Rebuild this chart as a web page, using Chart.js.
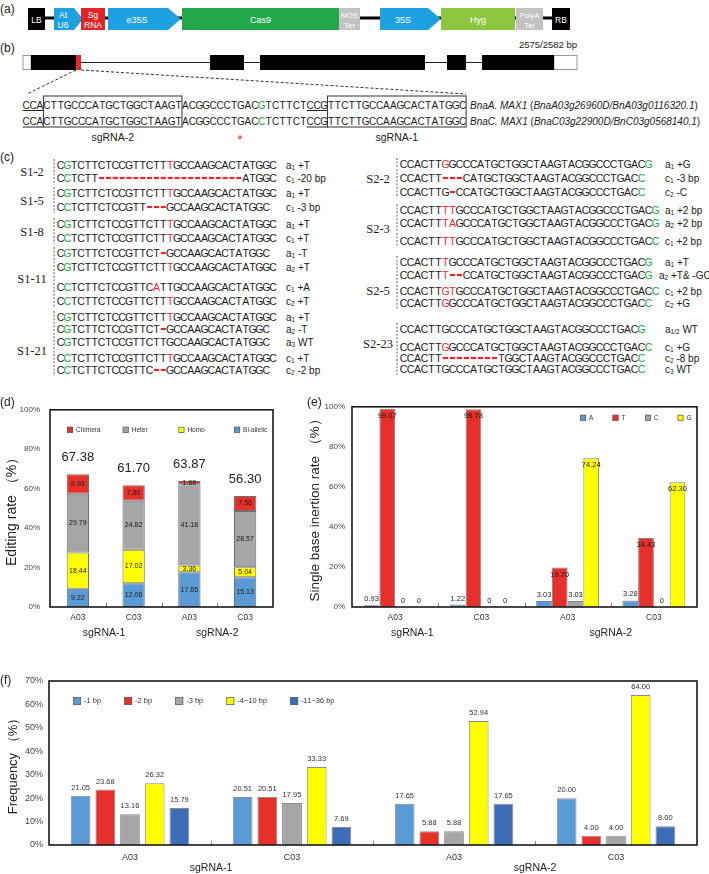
<!DOCTYPE html>
<html>
<head>
<meta charset="utf-8">
<script src="https://cdn.jsdelivr.net/npm/chart.js@4.4.0/dist/chart.umd.min.js"></script>
<style>
  html, body { margin: 0; padding: 0; background: #fff; }
  #page { position: relative; width: 709px; height: 874px; overflow: hidden; font-family: "Liberation Sans", Arial, sans-serif; }
  #diagram { position: absolute; left: 0; top: 0; }
  canvas { position: absolute; }
  .plabel { position: absolute; font-size: 12px; color: #222; }
</style>
</head>
<body>
<div id="page">
  <svg id="diagram" width="709" height="385" xmlns="http://www.w3.org/2000/svg"></svg>
  <canvas id="chartD" width="285" height="250" style="left:0;top:395px"></canvas>
  <canvas id="chartE" width="409" height="250" style="left:300px;top:395px"></canvas>
  <canvas id="chartF" width="709" height="229" style="left:0;top:645px"></canvas>
  <div class="plabel" style="left:0;top:395px">(d)</div>
  <div class="plabel" style="left:307px;top:395px">(e)</div>
  <div class="plabel" style="left:0;top:673px">(f)</div>
</div>
<script>
// ---- chart data ----
// (d) editing rate, stacked
var dCategories = ['A03', 'C03', 'A03', 'C03'];
var dBiallelic = [9.22, 12.06, 17.65, 15.13];
var dHomo = [18.44, 17.02, 3.36, 5.04];
var dHeter = [29.79, 24.82, 41.18, 28.57];
var dChimera = [9.93, 7.80, 1.68, 7.56];
var dTotals = [67.38, 61.70, 63.87, 56.30];

// (e) single base insertion rate
var eCategories = ['A03', 'C03', 'A03', 'C03'];
var eA = [0.93, 1.22, 3.03, 3.28];
var eT = [99.07, 98.78, 19.70, 34.43];
var eC = [0, 0, 3.03, 0];
var eG = [0, 0, 74.24, 62.30];

// (f) deletion size frequency
var fCategories = ['A03', 'C03', 'A03', 'C03'];
var fDel1 = [21.05, 20.51, 17.65, 20.00];
var fDel2 = [23.68, 20.51, 5.88, 4.00];
var fDel3 = [13.16, 17.95, 5.88, 4.00];
var fDel4to10 = [26.32, 33.33, 52.94, 64.00];
var fDel11to36 = [15.79, 7.69, 17.65, 8.00];

var sgRNAs = ['sgRNA-1', 'sgRNA-2'];

// colours
var RED = '#E8302A', GRAY = '#A6A6A6', YELLOW = '#FFFF00', BLUE = '#5B9BD5', DBLUE = '#3E6DB8';
var GREEN_TXT = '#22A33A', RED_TXT = '#E8262B';

// ---- panels (a)-(c): construct, gene and sequences ----
var svg = '';
var rects = '';

function txt(x, y, s, attrs) {
  svg += '<text x="' + x + '" y="' + y + '" ' + (attrs || '') + '>' + s + '</text>';
}

// (a) T-DNA construct
txt(0, 13, '(a)', 'font-size="12" fill="#222"');
svg += '<rect x="45" y="16.5" width="507" height="3" fill="#000"/>';
function box(x, w, fill, lines, fs) {
  svg += '<rect x="' + x + '" y="8" width="' + w + '" height="22" fill="' + fill + '"/>';
  var cx = x + w / 2;
  if (lines.length === 1) txt(cx, 22.5, lines[0], 'font-size="' + fs + '" fill="#fff" text-anchor="middle"');
  else {
    txt(cx, 17.5, lines[0], 'font-size="' + fs + '" fill="#fff" text-anchor="middle"');
    txt(cx, 28, lines[1], 'font-size="' + fs + '" fill="#fff" text-anchor="middle"');
  }
}
function arrow(x, w, tip, fill, lines, fs, tx) {
  svg += '<polygon points="' + x + ',8 ' + (x + w - tip) + ',8 ' + (x + w) + ',19 ' + (x + w - tip) + ',30 ' + x + ',30" fill="' + fill + '"/>';
  if (lines.length === 1) txt(tx, 22.5, lines[0], 'font-size="' + fs + '" fill="#fff" text-anchor="middle"');
  else {
    txt(tx, 17.5, lines[0], 'font-size="' + fs + '" fill="#fff" text-anchor="middle"');
    txt(tx, 28, lines[1], 'font-size="' + fs + '" fill="#fff" text-anchor="middle"');
  }
}
box(28, 17, '#000', ['LB'], 8.5);
arrow(54, 29, 9, '#1DA1E0', ['At', 'U6'], 8.5, 63);
box(81, 24, '#E42328', ['Sg', 'RNA'], 8.5);
arrow(108, 73, 13, '#1DA1E0', ['e35S'], 9, 137);
box(182, 157, '#22A84A', ['Cas9'], 9);
box(339, 21, '#C3C3C3', ['NOS', 'Ter'], 8);
arrow(380, 61, 13, '#1DA1E0', ['35S'], 9, 403);
box(441, 74, '#8CC63F', ['Hyg'], 9);
box(516, 27, '#C3C3C3', ['PolyA', 'Ter'], 7.5);
box(552, 18, '#000', ['RB'], 8.5);

// (b) gene structure
txt(0, 52, '(b)', 'font-size="12" fill="#222"');
txt(577, 48, '2575/2582 bp', 'font-size="9.5" fill="#222" text-anchor="end"');
svg += '<line x1="31" y1="62.5" x2="554" y2="62.5" stroke="#222" stroke-width="1"/>';
svg += '<rect x="23" y="55.5" width="8" height="14" fill="#fff" stroke="#999"/>';
svg += '<rect x="554" y="55.5" width="23" height="14" fill="#fff" stroke="#999"/>';
[[31, 46], [210, 34], [260, 165], [447, 19], [482, 72]].forEach(function (e) {
  svg += '<rect x="' + e[0] + '" y="55" width="' + e[1] + '" height="15" fill="#000"/>';
});
svg += '<rect x="76" y="55" width="5" height="15" fill="#E8262B"/>';
svg += '<line x1="76" y1="70" x2="27" y2="94" stroke="#333" stroke-dasharray="3,2"/>';
svg += '<line x1="81" y1="70" x2="466" y2="94" stroke="#333" stroke-dasharray="3,2"/>';

function seqRow(x0, yc, pitch, fs, str) {
  var chars = [], color = null;
  for (var k = 0; k < str.length; k++) {
    var ch = str[k];
    if (ch === '[') { color = GREEN_TXT; continue; }
    if (ch === '{') { color = RED_TXT; continue; }
    if (ch === ']' || ch === '}') { color = null; continue; }
    chars.push({ ch: ch, color: color });
  }
  var runs = [], run = null;
  chars.forEach(function (c, i) {
    if (c.ch === '-') {
      rects += '<rect x="' + (x0 + i * pitch + 0.9).toFixed(2) + '" y="' + (yc - 1.1) + '" width="' + (pitch - 1.8).toFixed(2) + '" height="2.2" fill="' + RED_TXT + '"/>';
      run = null;
      return;
    }
    if (!run || run.color !== c.color) { run = { color: c.color, xs: [], s: '' }; runs.push(run); }
    run.xs.push((x0 + (i + 0.5) * pitch).toFixed(2));
    run.s += c.ch;
  });
  svg += '<text y="' + (yc + fs * 0.36).toFixed(2) + '" font-size="' + fs + '" text-anchor="middle" fill="#1a1a1a">';
  runs.forEach(function (r) {
    svg += '<tspan x="' + r.xs.join(' ') + '"' + (r.color ? ' fill="' + r.color + '"' : '') + '>' + r.s + '</tspan>';
  });
  svg += '</text>';
}

var bPitch = 6.93, bX0 = 22.6;
seqRow(bX0, 105, bPitch, 10, 'CCACTTGCCCATGCTGGCTAAGTACGGCCCTGAC[G]TCTTCTCCGTTCTTGCCAAGCACTATGGC');
seqRow(bX0, 121, bPitch, 10, 'CCACTTGCCCATGCTGGCTAAGTACGGCCCTGAC[C]TCTTCTCCGTTCTTGCCAAGCACTATGGC');
svg += '<rect x="' + (bX0 + 3 * bPitch) + '" y="96" width="' + (20 * bPitch) + '" height="31" fill="none" stroke="#333"/>';
svg += '<rect x="' + (bX0 + 44 * bPitch) + '" y="96" width="' + (20 * bPitch) + '" height="31" fill="none" stroke="#333"/>';
[110.5, 127].forEach(function (y) {
  svg += '<line x1="' + bX0 + '" y1="' + y + '" x2="' + (bX0 + 3 * bPitch) + '" y2="' + y + '" stroke="#222"/>';
  svg += '<line x1="' + (bX0 + 41 * bPitch) + '" y1="' + y + '" x2="' + (bX0 + 44 * bPitch) + '" y2="' + y + '" stroke="#222"/>';
});
txt(bX0 + 13 * bPitch, 141, 'sgRNA-2', 'font-size="10.5" fill="#222" text-anchor="middle"');
txt(bX0 + 54 * bPitch, 141, 'sgRNA-1', 'font-size="10.5" fill="#222" text-anchor="middle"');
txt(240, 144, '*', 'font-size="13" fill="#E8262B" text-anchor="middle"');
txt(470, 108.6, '<tspan font-style="italic">BnaA. MAX1</tspan> (<tspan font-style="italic">BnaA03g26960D/BnA03g0116320.1</tspan>)', 'font-size="10" fill="#222"');
txt(470, 124.6, '<tspan font-style="italic">BnaC. MAX1</tspan> (<tspan font-style="italic">BnaC03g22900D/BnC03g0568140.1</tspan>)', 'font-size="10" fill="#222"');

// (c) sequencing of edited lines
txt(0, 161, '(c)', 'font-size="12" fill="#222"');

function note(x, yc, s, fs) {
  var m = s.match(/^(\w)_(\S+) (.*)$/);
  svg += '<text x="' + x + '" y="' + (yc + fs * 0.36).toFixed(2) + '" font-size="' + fs + '" fill="#1a1a1a">' + m[1] +
    '<tspan font-size="' + (fs * 0.65) + '" dy="1.5">' + m[2] + '</tspan><tspan dy="-1.5"> ' + m[3] + '</tspan></text>';
}

var leftGroups = [
  { name: 'S1-2', y: 171, rows: [
    [165, 'C[G]TCTTCTCCGTTCTT{T}GCCAAGCACTATGGC', 'a_1 +T'],
    [178, 'C[C]TCTT---------------------ATGGC', 'c_1 -20 bp']] },
  { name: 'S1-5', y: 200, rows: [
    [193, 'C[G]TCTTCTCCGTTCTT{T}GCCAAGCACTATGGC', 'a_1 +T'],
    [207, 'C[C]TCTTCTCCGTT---GCCAAGCACTATGGC', 'c_1 -3 bp']] },
  { name: 'S1-8', y: 231, rows: [
    [224, 'C[G]TCTTCTCCGTTCTT{T}GCCAAGCACTATGGC', 'a_1 +T'],
    [238, 'C[C]TCTTCTCCGTTCTT{T}GCCAAGCACTATGGC', 'c_1 +T']] },
  { name: 'S1-11', y: 278, rows: [
    [253, 'C[G]TCTTCTCCGTTCT-GCCAAGCACTATGGC', 'a_1 -T'],
    [267, 'C[G]TCTTCTCCGTTCTT{T}GCCAAGCACTATGGC', 'a_2 +T'],
    [287, 'C[C]TCTTCTCCGTTC{A}TTGCCAAGCACTATGGC', 'c_1 +A'],
    [301, 'C[C]TCTTCTCCGTTCTT{T}GCCAAGCACTATGGC', 'c_2 +T']] },
  { name: 'S1-21', y: 350, rows: [
    [317, 'C[G]TCTTCTCCGTTCTT{T}GCCAAGCACTATGGC', 'a_1 +T'],
    [329, 'C[G]TCTTCTCCGTTCT-GCCAAGCACTATGGC', 'a_2 -T'],
    [342, 'C[G]TCTTCTCCGTTCTTGCCAAGCACTATGGC', 'a_3 WT'],
    [358, 'C[C]TCTTCTCCGTTCTT{T}GCCAAGCACTATGGC', 'c_1 +T'],
    [370, 'C[C]TCTTCTCCGTTC--GCCAAGCACTATGGC', 'c_2 -2 bp']] }
];
var rightGroups = [
  { name: 'S2-2', y: 178, rows: [
    [164, 'CCACTT{G}GCCCATGCTGGCTAAGTACGGCCCTGAC[G]', 'a_1 +G'],
    [178, 'CCACTT---CATGCTGGCTAAGTACGGCCCTGAC[C]', 'c_1 -3 bp'],
    [192, 'CCACTTG-CCATGCTGGCTAAGTACGGCCCTGAC[C]', 'c_2 -C']] },
  { name: 'S2-3', y: 228, rows: [
    [210, 'CCACTT{TT}GCCCATGCTGGCTAAGTACGGCCCTGAC[G]', 'a_1 +2 bp'],
    [223, 'CCACTT{TA}GCCCATGCTGGCTAAGTACGGCCCTGAC[G]', 'a_2 +2 bp'],
    [241, 'CCACTT{TT}GCCCATGCTGGCTAAGTACGGCCCTGAC[C]', 'c_1 +2 bp']] },
  { name: 'S2-5', y: 290, rows: [
    [262, 'CCACTT{T}GCCCATGCTGGCTAAGTACGGCCCTGAC[G]', 'a_1 +T'],
    [275, 'CCACTT{T}--CCATGCTGGCTAAGTACGGCCCTGAC[G]', 'a_2 +T&amp; -GC', 659],
    [291, 'CCACTT{GT}GCCCATGCTGGCTAAGTACGGCCCTGAC[C]', 'c_1 +2 bp'],
    [303, 'CCACTT{G}GCCCATGCTGGCTAAGTACGGCCCTGAC[C]', 'c_2 +G']] },
  { name: 'S2-23', y: 343, rows: [
    [329, 'CCACTTGCCCATGCTGGCTAAGTACGGCCCTGAC[G]', 'a_1/2 WT'],
    [347, 'CCACTT{G}GCCCATGCTGGCTAAGTACGGCCCTGAC[C]', 'c_1 +G'],
    [358, 'CCACTT--------TGGCTAAGTACGGCCCTGAC[C]', 'c_2 -8 bp'],
    [369, 'CCACTTGCCCATGCTGGCTAAGTACGGCCCTGAC[C]', 'c_3 WT']] }
];

function drawGroups(groups, x0, pitch, lineX, noteX, labelX) {
  groups.forEach(function (g) {
    var r0 = g.rows[0][0], r1 = g.rows[g.rows.length - 1][0];
    svg += '<line x1="' + lineX + '" y1="' + (r0 - 6) + '" x2="' + lineX + '" y2="' + (r1 + 6) + '" stroke="#333" stroke-width="0.8" stroke-dasharray="2,1.6"/>';
    txt(labelX, g.y + 4.5, g.name, 'font-size="12.5" font-family="Liberation Serif, Times New Roman, serif" fill="#222" text-anchor="middle"');
    g.rows.forEach(function (r) {
      seqRow(x0, r[0], pitch, 10.5, r[1]);
      note(r[3] || noteX, r[0], r[2], 10);
    });
  });
}
drawGroups(leftGroups, 57, 6.86, 54, 286, 32);
drawGroups(rightGroups, 400, 7.0, 397, 665, 378);

document.getElementById('diagram').innerHTML = svg + rects;

// ---- Chart.js panels ----
Chart.defaults.font.family = '"Liberation Sans", Arial, sans-serif';
Chart.defaults.color = '#333';

// border round the plot area, plus small ticks between categories
var framePlugin = {
  id: 'frame',
  afterDatasetsDraw: function (chart) {
    var a = chart.chartArea, ctx = chart.ctx, x = chart.scales.x;
    ctx.save();
    ctx.strokeStyle = '#888';
    ctx.lineWidth = 1;
    for (var k = 1; k < chart.data.labels.length; k++) {
      var px = Math.round((x.getPixelForValue(k - 1) + x.getPixelForValue(k)) / 2) + 0.5;
      ctx.beginPath(); ctx.moveTo(px, a.bottom); ctx.lineTo(px, a.bottom - 4); ctx.stroke();
    }
    ctx.strokeStyle = '#1a1a1a';
    ctx.lineWidth = 1.6;
    ctx.strokeRect(a.left, a.top, a.right - a.left, a.bottom - a.top);
    ctx.restore();
  }
};

// sgRNA group names under the category labels
var groupPlugin = {
  id: 'groups',
  afterDraw: function (chart, args, o) {
    var x = chart.scales.x, ctx = chart.ctx;
    ctx.save();
    ctx.font = o.size + 'px "Liberation Sans", Arial, sans-serif';
    ctx.fillStyle = '#222';
    ctx.textAlign = 'center';
    ctx.textBaseline = 'middle';
    o.labels.forEach(function (t, i) {
      var p = o.at[i], k = Math.floor(p), f = p - k;
      var p0 = x.getPixelForValue(k), p1 = x.getPixelForValue(k + 1);
      ctx.fillText(t, p0 + f * (p1 - p0), chart.chartArea.bottom + o.dy);
    });
    ctx.restore();
  }
};

// legend drawn inside the plot area
var boxLegend = {
  id: 'boxLegend',
  afterDraw: function (chart, args, o) {
    var a = chart.chartArea, ctx = chart.ctx;
    var ds = chart.data.datasets.slice();
    if (o.reverse) ds.reverse();
    ctx.save();
    ctx.font = o.size + 'px "Liberation Sans", Arial, sans-serif';
    ctx.textBaseline = 'middle';
    ctx.textAlign = 'left';
    var x = a.left + o.x0, y = a.top + o.dy;
    ds.forEach(function (d, i) {
      var bx = o.step ? a.left + o.x0 + i * o.step : x;
      ctx.fillStyle = d.backgroundColor;
      ctx.fillRect(bx, y - o.box / 2, o.box, o.box);
      ctx.strokeStyle = '#666';
      ctx.lineWidth = 0.8;
      ctx.strokeRect(bx + 0.4, y - o.box / 2 + 0.4, o.box - 0.8, o.box - 0.8);
      ctx.fillStyle = '#333';
      ctx.fillText(d.label, bx + o.box + 3, y);
      x = bx + o.box + 3 + ctx.measureText(d.label).width + (o.gap || 0);
    });
    ctx.restore();
  }
};

function yAxis(max, step, fs, pad, width, title, tfs, tpad) {
  return {
    min: 0, max: max,
    ticks: { stepSize: step, font: { size: fs }, color: '#444', padding: pad, callback: function (v) { return v + '%'; } },
    grid: { display: false, drawTicks: false },
    border: { display: false },
    title: { display: true, text: title, font: { size: tfs }, color: '#222', padding: { top: tpad, bottom: 0 } },
    afterFit: function (s) { s.width = width; }
  };
}
function xAxis(fs, pad, height, stacked) {
  return {
    stacked: stacked,
    ticks: { font: { size: fs }, color: '#333', padding: pad },
    grid: { display: false, drawTicks: false },
    border: { display: false },
    afterFit: function (s) { s.height = height; }
  };
}

// (d)
new Chart(document.getElementById('chartD'), {
  type: 'bar',
  data: {
    labels: dCategories,
    datasets: [
      { label: 'Bi-allelic', data: dBiallelic, backgroundColor: BLUE },
      { label: 'Homo', data: dHomo, backgroundColor: YELLOW },
      { label: 'Heter', data: dHeter, backgroundColor: GRAY },
      { label: 'Chimera', data: dChimera, backgroundColor: RED }
    ].map(function (d) {
      d.borderColor = '#707070'; d.borderWidth = 1; d.borderSkipped = false;
      d.categoryPercentage = 1; d.barPercentage = 0.4;
      return d;
    })
  },
  options: {
    responsive: false, animation: false, devicePixelRatio: 1,
    layout: { padding: { top: 9, right: 12, left: 0, bottom: 0 } },
    scales: {
      x: xAxis(8.5, 6, 38, true),
      y: Object.assign(yAxis(100, 20, 8, 10, 50, 'Editing rate （%）', 14, 4), { stacked: true })
    },
    plugins: {
      legend: { display: false }, tooltip: { enabled: false },
      groups: { labels: sgRNAs, at: [0.47, 2.5], dy: 26, size: 10.5 },
      boxLegend: { reverse: true, x0: 17, step: 55.7, dy: 20, box: 6, size: 6.5 }
    }
  },
  plugins: [framePlugin, {
    id: 'dLabels',
    afterDatasetsDraw: function (chart) {
      var ctx = chart.ctx;
      ctx.save();
      ctx.textAlign = 'center';
      ctx.textBaseline = 'middle';
      ctx.fillStyle = '#1a1a1a';
      ctx.font = '7px "Liberation Sans", Arial, sans-serif';
      chart.data.datasets.forEach(function (ds, di) {
        chart.getDatasetMeta(di).data.forEach(function (bar, i) {
          ctx.fillText(ds.data[i].toFixed(2), bar.x, (bar.y + bar.base) / 2);
        });
      });
      var top = chart.getDatasetMeta(chart.data.datasets.length - 1).data;
      ctx.font = '13px "Liberation Sans", Arial, sans-serif';
      ctx.fillStyle = '#222';
      dTotals.forEach(function (t, i) { ctx.fillText(t.toFixed(2), top[i].x, top[i].y - 17); });
      ctx.restore();
    }
  }, groupPlugin, boxLegend]
});

// (e)
new Chart(document.getElementById('chartE'), {
  type: 'bar',
  data: {
    labels: eCategories,
    datasets: [
      { label: 'A', data: eA, backgroundColor: BLUE },
      { label: 'T', data: eT, backgroundColor: RED },
      { label: 'C', data: eC, backgroundColor: GRAY },
      { label: 'G', data: eG, backgroundColor: YELLOW }
    ].map(function (d) {
      d.borderColor = '#808080'; d.borderWidth = 1; d.borderSkipped = 'bottom';
      d.categoryPercentage = 0.73; d.barPercentage = 1;
      return d;
    })
  },
  options: {
    responsive: false, animation: false, devicePixelRatio: 1,
    layout: { padding: { top: 9, right: 12, left: 0, bottom: 0 } },
    scales: {
      x: xAxis(8.5, 6, 38, false),
      y: yAxis(100, 20, 8, 7, 52, 'Single base inertion rate （%）', 13.5, 7)
    },
    plugins: {
      legend: { display: false }, tooltip: { enabled: false },
      groups: { labels: sgRNAs, at: [0.2, 2.5], dy: 26, size: 10.5 },
      boxLegend: { x0: 228, step: 32.5, dy: 11, box: 6, size: 6.5 }
    }
  },
  plugins: [framePlugin, {
    id: 'eLabels',
    afterDatasetsDraw: function (chart) {
      var ctx = chart.ctx;
      ctx.save();
      ctx.textAlign = 'center';
      ctx.textBaseline = 'middle';
      ctx.fillStyle = '#1a1a1a';
      ctx.font = '7.5px "Liberation Sans", Arial, sans-serif';
      chart.data.datasets.forEach(function (ds, di) {
        chart.getDatasetMeta(di).data.forEach(function (bar, i) {
          var v = ds.data[i];
          var s = v === 0 ? '0' : v.toFixed(2);
          ctx.fillText(s, bar.x, v > 15 ? bar.y + 7 : bar.y - 6);
        });
      });
      ctx.restore();
    }
  }, groupPlugin, boxLegend]
});

// (f)
new Chart(document.getElementById('chartF'), {
  type: 'bar',
  data: {
    labels: fCategories,
    datasets: [
      { label: '-1 bp', data: fDel1, backgroundColor: BLUE },
      { label: '-2 bp', data: fDel2, backgroundColor: RED },
      { label: '-3 bp', data: fDel3, backgroundColor: GRAY },
      { label: '-4~10 bp', data: fDel4to10, backgroundColor: YELLOW },
      { label: '-11~36 bp', data: fDel11to36, backgroundColor: DBLUE }
    ].map(function (d) {
      d.borderColor = '#8a8a8a'; d.borderWidth = 1; d.borderSkipped = 'bottom';
      d.categoryPercentage = 0.762; d.barPercentage = 0.8;
      return d;
    })
  },
  options: {
    responsive: false, animation: false, devicePixelRatio: 1,
    layout: { padding: { top: 36, right: 12, left: 0, bottom: 0 } },
    scales: {
      x: xAxis(9, 7.5, 29, false),
      y: yAxis(70, 10, 9, 6, 49, 'Frequency （%）', 13, 5.8)
    },
    plugins: {
      legend: { display: false }, tooltip: { enabled: false },
      groups: { labels: sgRNAs, at: [0.5, 2.5], dy: 23, size: 10.5 },
      boxLegend: { x0: 24, gap: 23, dy: 20, box: 8, size: 7.5 }
    }
  },
  plugins: [framePlugin, {
    id: 'fLabels',
    afterDatasetsDraw: function (chart) {
      var ctx = chart.ctx;
      ctx.save();
      ctx.textAlign = 'center';
      ctx.textBaseline = 'middle';
      ctx.fillStyle = '#333';
      ctx.font = '7.5px "Liberation Sans", Arial, sans-serif';
      chart.data.datasets.forEach(function (ds, di) {
        chart.getDatasetMeta(di).data.forEach(function (bar, i) {
          ctx.fillText(ds.data[i].toFixed(2), bar.x, bar.y - 8);
        });
      });
      ctx.restore();
    }
  }, groupPlugin, boxLegend]
});
</script>
</body>
</html>
